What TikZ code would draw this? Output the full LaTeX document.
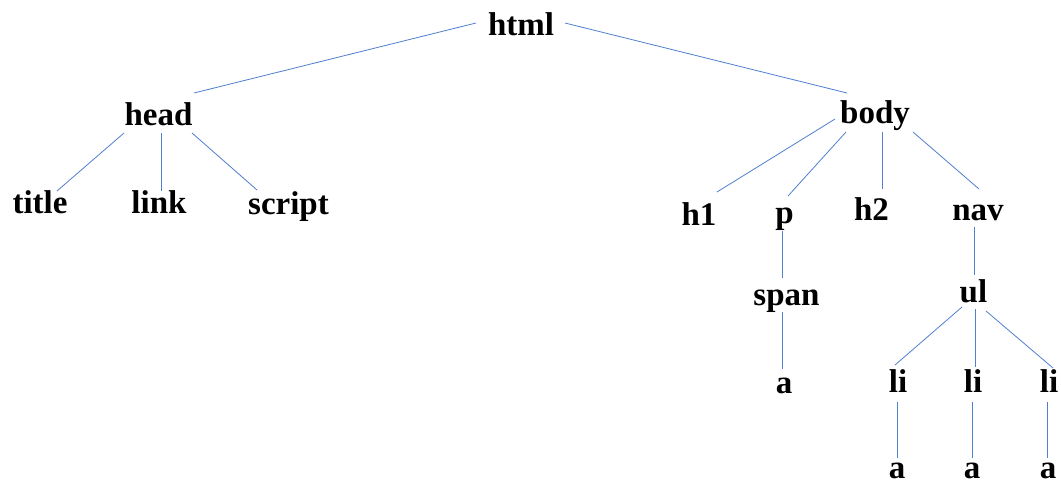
\documentclass[tikz,border=0pt]{standalone}
\usepackage{fontspec}
\setmainfont{Liberation Serif}
\begin{document}
\begin{tikzpicture}[x=1pt,y=-1pt,
  tag/.style={anchor=base,inner sep=0pt,font=\bfseries\fontsize{33}{40}\selectfont},
  edge/.style={draw=edgeblue,line width=0.8pt}]
\definecolor{edgeblue}{HTML}{4F7FD0}
\useasboundingbox (0,0) rectangle (1061,482);

% element nodes, placed on their baselines
\node[tag] (html)   at (521,35)    {html};
\node[tag] (head)   at (158.5,125) {head};
\node[tag] (body)   at (875,123)   {body};
\node[tag] (title)  at (40,213)    {title};
\node[tag] (link)   at (159,213)   {link};
\node[tag] (script) at (288.5,214) {script};
\node[tag] (h1)     at (699,225)   {h1};
\node[tag] (p)      at (784.5,223) {p};
\node[tag] (h2)     at (871.5,220) {h2};
\node[tag] (nav)    at (978,220)   {nav};
\node[tag] (span)   at (786.5,305) {span};
\node[tag] (ul)     at (973.5,302) {ul};
\node[tag] (spana)  at (784,393)   {a};
\node[tag] (li1)    at (898,392)   {li};
\node[tag] (li2)    at (973,392)   {li};
\node[tag] (li3)    at (1049,392)  {li};
\node[tag] (a1)     at (897,478)   {a};
\node[tag] (a2)     at (972,478)   {a};
\node[tag] (a3)     at (1048,478)  {a};

% parent-child links
\draw[edge] ([shift={(-45,-12)}]html.base) -- ([shift={(35.5,-32)}]head.base);
\draw[edge] ([shift={(44,-12)}]html.base)  -- ([shift={(-28,-30)}]body.base);

\draw[edge] ([shift={(-34.5,8)}]head.base) -- ([shift={(17,-22)}]title.base);
\draw[edge] ([shift={(2.5,8)}]head.base)   -- ([shift={(2,-22)}]link.base);
\draw[edge] ([shift={(33.5,8)}]head.base)  -- ([shift={(-31.5,-24)}]script.base);

\draw[edge] ([shift={(-40,-4)}]body.base) -- ([shift={(18,-33)}]h1.base);
\draw[edge] ([shift={(-29,9)}]body.base)  -- ([shift={(3.5,-27)}]p.base);
\draw[edge] ([shift={(7,9)}]body.base)    -- ([shift={(10.5,-31)}]h2.base);
\draw[edge] ([shift={(38,9)}]body.base)   -- ([shift={(1,-31)}]nav.base);

\draw[edge] ([shift={(-2.5,8)}]p.base)    -- ([shift={(-4.5,-27)}]span.base);
\draw[edge] ([shift={(-4.5,7)}]span.base) -- ([shift={(-2,-24)}]spana.base);

\draw[edge] ([shift={(-4,7)}]nav.base)    -- ([shift={(0.5,-27)}]ul.base);
\draw[edge] ([shift={(-11.5,5)}]ul.base)  -- ([shift={(-3,-27)}]li1.base);
\draw[edge] ([shift={(1.5,7)}]ul.base)    -- ([shift={(2,-25)}]li2.base);
\draw[edge] ([shift={(12.5,9)}]ul.base)   -- ([shift={(4,-24)}]li3.base);

\draw[edge] ([shift={(-1,10)}]li1.base) -- ([shift={(0,-20)}]a1.base);
\draw[edge] ([shift={(-1,10)}]li2.base) -- ([shift={(0,-20)}]a2.base);
\draw[edge] ([shift={(-2,10)}]li3.base) -- ([shift={(-1,-20)}]a3.base);
\end{tikzpicture}
\end{document}
